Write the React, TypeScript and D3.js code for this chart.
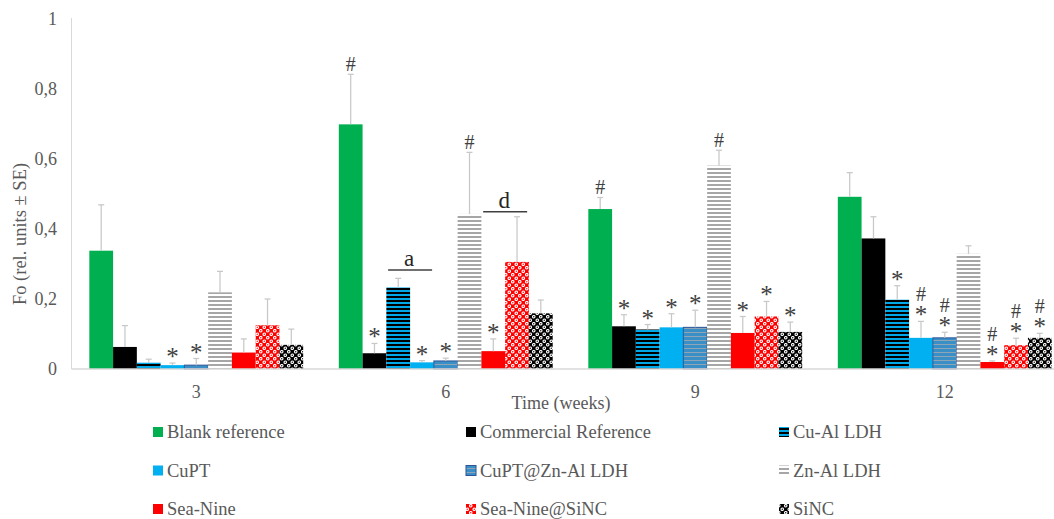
import React from 'react';
import * as d3 from 'd3';

const categories = ['3', '6', '9', '12'];
const seriesNames = [
  'Blank reference', 'Commercial Reference', 'Cu-Al LDH',
  'CuPT', 'CuPT@Zn-Al LDH', 'Zn-Al LDH',
  'Sea-Nine', 'Sea-Nine@SiNC', 'SiNC',
];
const blankRef = [0.338, 0.699, 0.457, 0.492];
const commercialRef = [0.063, 0.045, 0.122, 0.373];
const cuAl = [0.018, 0.233, 0.113, 0.198];
const cuPT = [0.011, 0.019, 0.119, 0.089];
const cuPTZnAl = [0.011, 0.023, 0.119, 0.089];
const znAl = [0.219, 0.443, 0.581, 0.329];
const seaNine = [0.047, 0.051, 0.103, 0.020];
const seaNineSiNC = [0.125, 0.306, 0.150, 0.068];
const siNC = [0.069, 0.159, 0.106, 0.089];

const blankRefSE = [0.131, 0.143, 0.033, 0.069];
const commercialRefSE = [0.061, 0.028, 0.033, 0.062];
const cuAlSE = [0.010, 0.026, 0.014, 0.040];
const cuPTSE = [0.006, 0.005, 0.039, 0.047];
const cuPTZnAlSE = [0.019, 0.008, 0.049, 0.016];
const znAlSE = [0.060, 0.176, 0.044, 0.023];
const seaNineSE = [0.039, 0.035, 0.047, 0.003];
const seaNineSiNCSE = [0.075, 0.129, 0.043, 0.020];
const siNCSE = [0.045, 0.038, 0.028, 0.013];

// significance marks per category (top to bottom)
const marks3 = ['', '', '', '*', '*', '', '', '', ''];
const marks6 = ['#', '*', '', '*', '*', '#', '*', '', ''];
const marks9 = ['#', '*', '*', '*', '*', '#', '*', '*', '*'];
const marks12 = ['', '', '*', '#*', '#*', '', '#*', '#*', '#*'];

const bracketLabels = ['a', 'd'];
const bracketCats = ['6', '6'];
const bracketFrom = [2, 6];
const bracketValues = [0.283, 0.449];

const yTicks = [0, 0.2, 0.4, 0.6, 0.8, 1];

const values = [blankRef, commercialRef, cuAl, cuPT, cuPTZnAl, znAl, seaNine, seaNineSiNC, siNC];
const ses = [blankRefSE, commercialRefSE, cuAlSE, cuPTSE, cuPTZnAlSE, znAlSE, seaNineSE, seaNineSiNCSE, siNCSE];
const marks = [marks3, marks6, marks9, marks12];

const fills = [
  '#00B050', '#000000', 'url(#pCuAl)', '#00B0F0', 'url(#pCuPTZn)',
  'url(#pZnAl)', '#FF0000', 'url(#pSeaSiNC)', 'url(#pSiNC)',
];
const strokes = ['none', 'none', 'none', 'none', '#2F5597', 'none', 'none', 'none', 'none'];

const W = 1054;
const H = 519;
const left = 71.5;
const step = 249.5;
const baseY = 369;
const topY = 19;
const txt = '#595959';
const font = '"Liberation Serif", "Times New Roman", serif';

export default function App() {
  const x = d3.scaleBand<string>().domain(categories).range([left, left + step * categories.length]).padding(0);
  const groupW = (x.bandwidth() * 9) / 10.5;
  const xi = d3.scaleBand<number>().domain(d3.range(9)).range([0, groupW]).padding(0);
  const off = (x.bandwidth() - groupW) / 2;
  const y = d3.scaleLinear().domain([0, 1]).range([baseY, topY]);
  const bw = xi.bandwidth();
  const fmt = (v: number) => d3.format('.1~f')(v).replace('.', ',');

  return (
    <svg width={W} height={H} style={{ position: 'absolute', left: 0, top: 0, background: '#fff' }} fontFamily={font}>
      <defs>
        <pattern id="pCuAl" width="4" height="4" patternUnits="userSpaceOnUse">
          <rect width="4" height="4" fill="#00A8E8" />
          <rect width="4" height="2" fill="#000" />
        </pattern>
        <pattern id="pCuPTZn" width="4" height="4" patternUnits="userSpaceOnUse">
          <rect width="4" height="4" fill="#3A8FC6" />
          <rect width="4" height="1" fill="#8FA5B5" />
        </pattern>
        <pattern id="pZnAl" width="4" height="4" patternUnits="userSpaceOnUse">
          <rect width="4" height="4" fill="#fff" />
          <rect width="4" height="2" fill="#A6A6A6" />
        </pattern>
        <pattern id="pSeaSiNC" width="7" height="7" patternUnits="userSpaceOnUse">
          <rect width="7" height="7" fill="#FF0000" />
          <circle cx="1.75" cy="1.75" r="1.8" fill="#fff" />
          <circle cx="5.25" cy="5.25" r="1.8" fill="#fff" />
          <circle cx="1.75" cy="1.75" r="0.7" fill="#FF0000" />
          <circle cx="5.25" cy="5.25" r="0.7" fill="#FF0000" />
        </pattern>
        <pattern id="pSiNC" width="7" height="7" patternUnits="userSpaceOnUse">
          <rect width="7" height="7" fill="#000" />
          <circle cx="1.75" cy="1.75" r="1.8" fill="#fff" />
          <circle cx="5.25" cy="5.25" r="1.8" fill="#fff" />
          <circle cx="1.75" cy="1.75" r="0.7" fill="#000" />
          <circle cx="5.25" cy="5.25" r="0.7" fill="#000" />
        </pattern>
      </defs>

      {/* y axis */}
      <line x1={left} x2={left} y1={topY - 1} y2={baseY} stroke="#D9D9D9" strokeWidth={1} />
      {yTicks.map((t) => (
        <text key={t} x={57} y={y(t)} dy="0.35em" textAnchor="end" fontSize={18} fill={txt}>
          {fmt(t)}
        </text>
      ))}
      <text
        transform={`translate(26,${234}) rotate(-90)`}
        textAnchor="middle"
        fontSize={18.5}
        fill={txt}
      >
        Fo (rel. units ± SE)
      </text>

      {/* bars */}
      {categories.map((c, ci) => (
        <g key={c}>
          {values.map((vals, si) => {
            const bx = (x(c) as number) + off + (xi(si) as number);
            const v = vals[ci];
            const e = v + ses[si][ci];
            const cx = bx + bw / 2;
            return (
              <g key={si}>
                <rect x={bx} y={y(v)} width={bw} height={baseY - y(v)} fill={fills[si]}
                  stroke={strokes[si]} strokeWidth={strokes[si] === 'none' ? 0 : 1} />
                <line x1={cx} x2={cx} y1={y(v)} y2={y(e)} stroke="#C8C8C8" strokeWidth={1.25} />
                <line x1={cx - 3} x2={cx + 3} y1={y(e)} y2={y(e)} stroke="#C8C8C8" strokeWidth={1.25} />
              </g>
            );
          })}
        </g>
      ))}

      {/* baseline */}
      <line x1={left} x2={W} y1={baseY} y2={baseY} stroke="#D9D9D9" strokeWidth={1.5} />

      {/* significance marks */}
      {categories.map((c, ci) => (
        <g key={'m' + c}>
          {marks[ci].map((m, si) => {
            if (!m) return null;
            const bx = (x(c) as number) + off + (xi(si) as number);
            const cx = bx + bw / 2;
            const e = y(values[si][ci] + ses[si][ci]);
            const chars = m.split('');
            return chars.map((ch, k) => {
              const level = chars.length - 1 - k; // 0 = bottom
              const center = e - 10.5 - level * 16.5;
              const isStar = ch === '*';
              const base = isStar ? center + 12.5 : center + 6.8;
              return (
                <text key={si + '-' + k} x={cx} y={base} textAnchor="middle"
                  fontSize={isStar ? 25 : 20} fill="#404040">
                  {ch}
                </text>
              );
            });
          })}
        </g>
      ))}

      {/* brackets */}
      {bracketLabels.map((lab, i) => {
        const bx = (x(bracketCats[i]) as number) + off + (xi(bracketFrom[i]) as number);
        const cxm = bx + bw;
        const yy = y(bracketValues[i]);
        return (
          <g key={lab}>
            <line x1={cxm - 22} x2={cxm + 22} y1={yy} y2={yy} stroke="#404040" strokeWidth={1.5} />
            <text x={cxm - 1} y={yy - 4} textAnchor="middle" fontSize={23} fill="#262626">
              {lab}
            </text>
          </g>
        );
      })}

      {/* x labels */}
      {categories.map((c) => (
        <text key={'x' + c} x={(x(c) as number) + x.bandwidth() / 2} y={398} textAnchor="middle" fontSize={18} fill={txt}>
          {c}
        </text>
      ))}
      <text x={561} y={409} textAnchor="middle" fontSize={18} fill={txt}>
        Time (weeks)
      </text>

      {/* legend */}
      {seriesNames.map((name, i) => {
        const col = i % 3;
        const row = Math.floor(i / 3);
        const lx = [153, 466, 779][col];
        const ly = [432, 470.5, 509][row];
        return (
          <g key={name}>
            <rect x={lx} y={ly - 5} width={10} height={10} fill={fills[i]}
              stroke={strokes[i]} strokeWidth={strokes[i] === 'none' ? 0 : 1} />
            <text x={lx + 14} y={ly + 6} fontSize={18.5} fill={txt}>
              {name}
            </text>
          </g>
        );
      })}
    </svg>
  );
}
